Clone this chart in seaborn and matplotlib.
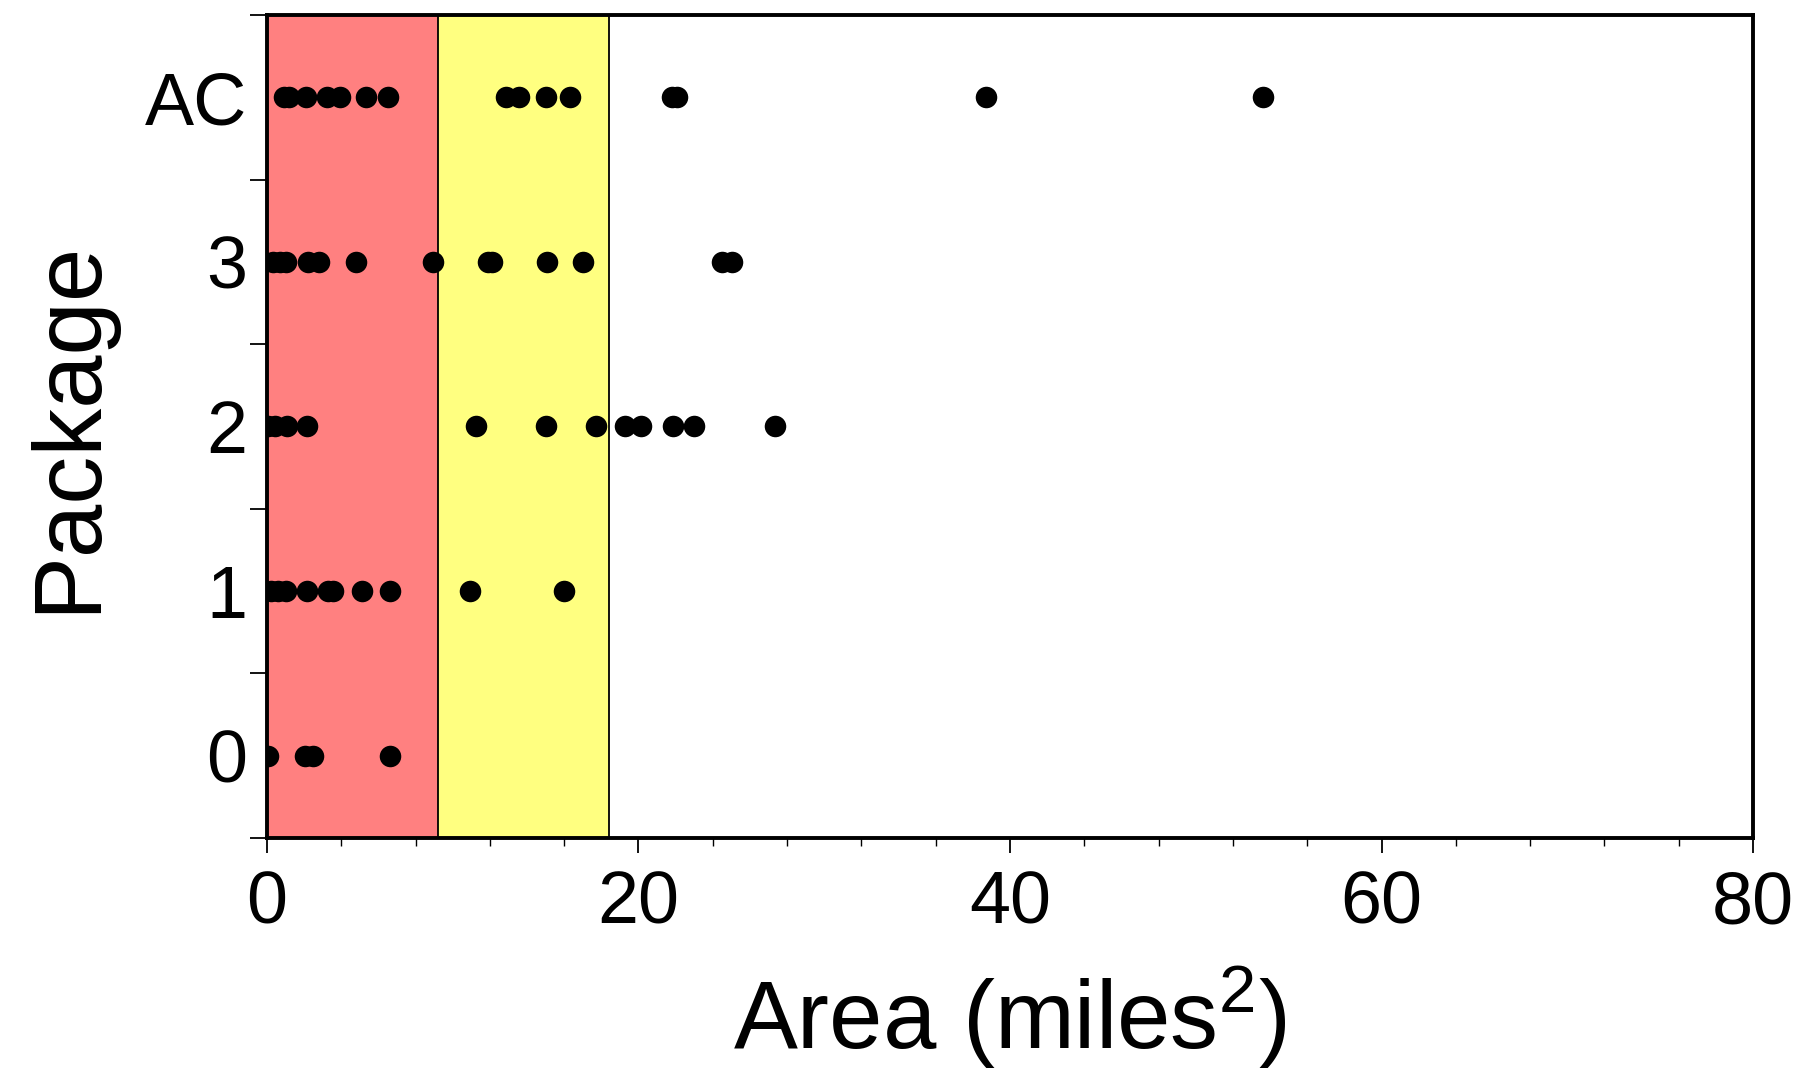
# strip plot of area per package, with shaded size bands
import matplotlib
matplotlib.use("Agg")
import matplotlib.pyplot as plt
import seaborn as sns
import pandas as pd

# areas (miles^2), one list per package
area_ac = [0.9, 1.2, 2.1, 3.25, 3.95, 5.35, 6.5, 12.85, 13.55, 15.0, 16.3, 21.8, 22.1, 38.7, 53.6]
area_3 = [0.3, 0.68, 1.0, 2.2, 2.8, 4.8, 8.95, 11.9, 12.1, 15.1, 17.0, 24.5, 25.05]
area_2 = [0.05, 0.45, 1.1, 2.15, 11.25, 15.0, 17.7, 19.3, 20.15, 21.85, 23.0, 27.35]
area_1 = [0.2, 0.6, 1.0, 2.15, 3.3, 3.55, 5.1, 6.65, 10.95, 16.0]
area_0 = [0.05, 2.05, 2.5, 6.65]

packages = ["AC", "3", "2", "1", "0"]
band_edges = [0, 9.2, 18.4]
band_colors = ["#FF8080", "#FFFF80"]

rows = []
for name, vals in zip(packages, [area_ac, area_3, area_2, area_1, area_0]):
    for v in vals:
        rows.append((name, v))
df = pd.DataFrame(rows, columns=["Package", "Area"])

sns.set_style("ticks")
plt.rcParams["font.family"] = ["Liberation Sans", "DejaVu Sans"]
plt.rcParams["mathtext.fontset"] = "custom"
plt.rcParams["mathtext.rm"] = "Liberation Sans"
plt.rcParams["mathtext.default"] = "regular"
for k in ["text.color", "axes.labelcolor", "xtick.color", "ytick.color", "axes.edgecolor"]:
    plt.rcParams[k] = "black"

fig = plt.figure(figsize=(18, 10.72), dpi=100)
ax = fig.add_axes([0.1483, 0.2183, 0.8256, 0.7677])

for i in range(len(band_colors)):
    ax.axvspan(band_edges[i], band_edges[i + 1], color=band_colors[i], zorder=0, lw=0)
for x in band_edges[1:]:
    ax.axvline(x, color="black", lw=1.3, zorder=0.5)

sns.stripplot(data=df, x="Area", y="Package", order=packages, jitter=False,
              color="black", size=15.5, linewidth=0, ax=ax, zorder=3)

ax.set_xlim(0, 80)
ax.set_ylim(4.5, -0.5)
ax.set_xticks([0, 20, 40, 60, 80])
ax.set_xticks(range(0, 81, 4), minor=True)
ax.set_yticks(range(len(packages)))
ax.set_yticklabels(packages)
ax.set_yticks([i - 0.5 for i in range(len(packages) + 1)], minor=True)

ax.tick_params(axis="x", which="major", direction="out", length=11, width=1.3,
               labelsize=53, pad=12)
ax.tick_params(axis="x", which="minor", direction="out", length=6, width=1.0)
ax.tick_params(axis="y", which="major", length=0, labelsize=53, pad=14)
ax.tick_params(axis="y", which="minor", direction="out", length=12, width=1.3)

for s in ax.spines.values():
    s.set_visible(True)
    s.set_linewidth(2.8)
    s.set_color("black")

ax.set_xlabel("Area (miles$^{2}$)", fontsize=69, labelpad=18)
ax.set_ylabel("Package", fontsize=69, labelpad=22)

fig.savefig("out.png", dpi=100)
